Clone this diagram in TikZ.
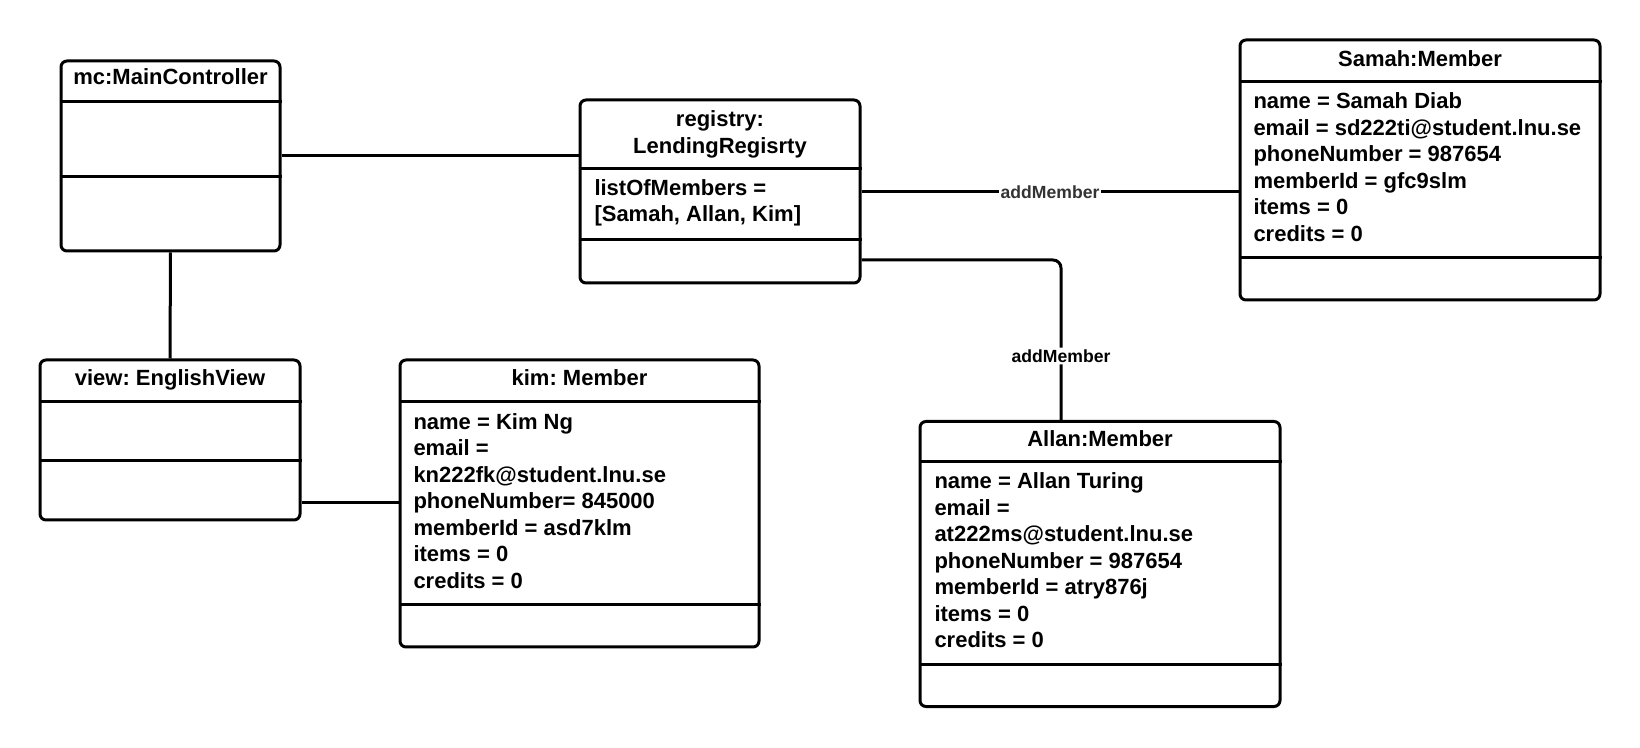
\documentclass[tikz,border=0pt]{standalone}
\usepackage{fontspec}
\setmainfont{Liberation Sans}
\usetikzlibrary{positioning}
\frenchspacing

\begin{document}
\begin{tikzpicture}[x=0.5pt,y=-0.5pt,line width=1.5pt,
	                    font=\fontsize{11}{13.25}\selectfont\bfseries]
	  	\tikzstyle{object}=[draw, rounded corners=3pt, inner sep=0pt]
	  	\tikzstyle{head}=[align=center, inner sep=0pt]
	  	\tikzstyle{attrs}=[align=left, anchor=west, inner sep=0pt]
	  	\tikzstyle{msg}=[font=\fontsize{8.8}{10}\selectfont\bfseries, fill=white, inner sep=1pt]

		  \useasboundingbox (0,0) rectangle (1640,748);

		  % objects
		  \node[object, minimum width=109.5pt, minimum height=95pt]   (mc)       at (170.5,156)  {};
		  \node[object, minimum width=140pt,   minimum height=91.5pt] (registry) at (720,191.5)  {};
		  \node[object, minimum width=180pt,   minimum height=130pt]  (samah)    at (1420,170)   {};
		  \node[object, minimum width=130pt,   minimum height=80pt]   (view)     at (170,440)    {};
		  \node[object, minimum width=179.5pt, minimum height=143.5pt] (kim)     at (579.5,503.5) {};
		  \node[object, minimum width=180pt,   minimum height=142.5pt] (allan)   at (1100,564)   {};

		  % titles
		  \node[head] (mc-title)       at (170.5,77)   {mc:MainController};
		  \node[head] (registry-title) at (720,134.5)  {registry:\\LendingRegisrty};
		  \node[head] (samah-title)    at (1420,59)    {Samah:Member};
		  \node[head] (view-title)     at (170,380)    {view: EnglishView};
		  \node[head] (kim-title)      at (579.5,378)  {kim: Member};
		  \node[head] (allan-title)    at (1100,438.5) {Allan:Member};

		  % attributes
		  \node[attrs] (registry-attrs) at (593,203)   {listOfMembers =\\ {[}Samah, Allan, Kim{]}};
		  \node[attrs] (samah-attrs)    at (1252,167)  {name = Samah Diab\\email = sd222ti@student.lnu.se\\phoneNumber = 987654\\memberId = gfc9slm\\items = 0\\credits = 0};
		  \node[attrs] (kim-attrs)      at (412,501)   {name = Kim Ng\\email =\\kn222fk@student.lnu.se\\phoneNumber= 845000\\memberId = asd7klm\\items = 0\\credits = 0};
		  \node[attrs] (allan-attrs)    at (933,560.5) {name = Allan Turing\\email =\\at222ms@student.lnu.se\\phoneNumber = 987654\\memberId = atry876j\\items = 0\\credits = 0};

		  % compartments
		  \draw (mc.west |- 0,102) -- (mc.east |- 0,102)
		        (mc.west |- 0,177) -- (mc.east |- 0,177)
		        (registry.west |- 0,169) -- (registry.east |- 0,169)
		        (registry.west |- 0,240) -- (registry.east |- 0,240)
		        (samah.west |- 0,82) -- (samah.east |- 0,82)
		        (samah.west |- 0,258) -- (samah.east |- 0,258)
		        (view.west |- 0,402) -- (view.east |- 0,402)
		        (view.west |- 0,461) -- (view.east |- 0,461)
		        (kim.west |- 0,402) -- (kim.east |- 0,402)
		        (kim.west |- 0,605) -- (kim.east |- 0,605)
		        (allan.west |- 0,462) -- (allan.east |- 0,462)
		        (allan.west |- 0,665) -- (allan.east |- 0,665);

		  % links
		  \draw (mc.east |- 0,156) -- (registry.west |- 0,156);
		  \draw (mc.south) -- (view.north);
		  \draw (view.east |- 0,503) -- (kim.west |- 0,503);
		  \draw (registry.east |- 0,192) -- node[msg, text=black!80] {addMember} (samah.west |- 0,192);
		  \draw[rounded corners=4pt] (registry.east |- 0,260) -| node[msg, pos=0.8] {addMember} (allan.north -| 1061,0);
		\end{tikzpicture}
\end{document}
